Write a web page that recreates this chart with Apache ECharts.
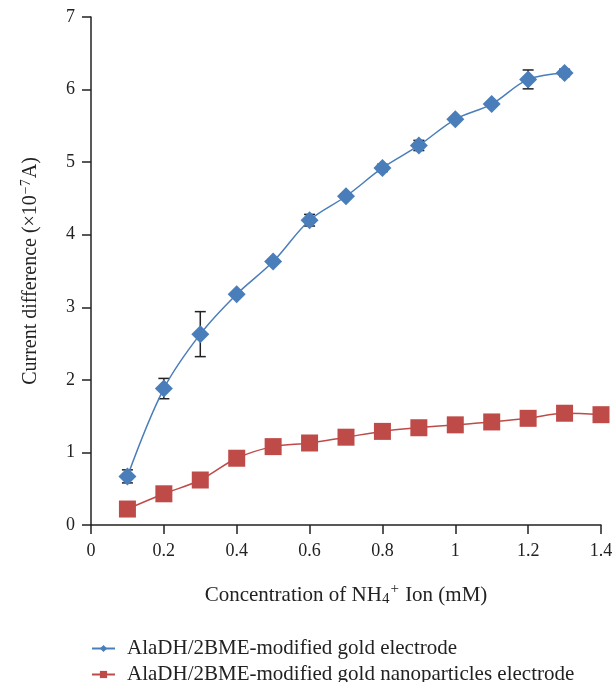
<!DOCTYPE html>
<html>
<head>
<meta charset="utf-8">
<script src="https://cdn.jsdelivr.net/npm/echarts@6/dist/echarts.min.js"></script>
<style>html,body{margin:0;padding:0;background:#fff}#c{width:616px;height:682px}</style>
</head>
<body>
<div id="c"></div>
<script>
const xValues = [0.1, 0.2, 0.3, 0.4, 0.5, 0.6, 0.7, 0.8, 0.9, 1.0, 1.1, 1.2, 1.3];
const goldElectrode = [0.67, 1.88, 2.63, 3.18, 3.63, 4.20, 4.53, 4.92, 5.23, 5.59, 5.80, 6.14, 6.23];
const goldError = [0.09, 0.14, 0.31, 0.03, 0.03, 0.08, 0.03, 0.05, 0.07, 0.03, 0.03, 0.13, 0.05];
const xValuesNano = [0.1, 0.2, 0.3, 0.4, 0.5, 0.6, 0.7, 0.8, 0.9, 1.0, 1.1, 1.2, 1.3, 1.4];
const nanoElectrode = [0.22, 0.43, 0.62, 0.92, 1.08, 1.13, 1.21, 1.29, 1.34, 1.38, 1.42, 1.47, 1.54, 1.52];
const xTicks = [0, 0.2, 0.4, 0.6, 0.8, 1, 1.2, 1.4];
const yTicks = [0, 1, 2, 3, 4, 5, 6, 7];
const seriesNames = ['AlaDH/2BME-modified gold electrode', 'AlaDH/2BME-modified gold nanoparticles electrode'];

const FONT = '"Liberation Serif", "DejaVu Serif", serif';
const chart = echarts.init(document.getElementById('c'), null, {renderer: 'canvas'});

const errData = xValues.map((x, i) => [x, goldElectrode[i] - goldError[i], goldElectrode[i] + goldError[i]]);

const legendBase = {
  orient: 'horizontal', left: 86,
  itemWidth: 23, itemHeight: 9,
  textStyle: {fontFamily: FONT, fontSize: 21, color: '#222', padding: [0, 0, 0, 7]}
};

chart.setOption({
  animation: false,
  backgroundColor: '#fff',
  grid: {left: 91, right: 15, top: 17, bottom: 157},
  xAxis: {
    type: 'value', min: xTicks[0], max: xTicks[xTicks.length - 1], interval: 0.2,
    name: '{a|Concentration of NH}{s|4}{p|+}{a| Ion (mM)}',
    nameLocation: 'middle', nameGap: 57,
    nameTextStyle: {
      rich: {
        a: {fontFamily: FONT, fontSize: 21, color: '#222', lineHeight: 26},
        s: {fontFamily: FONT, fontSize: 15, color: '#222', verticalAlign: 'middle', lineHeight: 16, padding: [9, 0, 0, 0]},
        p: {fontFamily: FONT, fontSize: 15, color: '#222', verticalAlign: 'top', lineHeight: 16, padding: [0, 1, 0, 1]}
      }
    },
    axisLine: {lineStyle: {color: '#222', width: 1.5}},
    axisTick: {show: true, inside: false, length: 9, lineStyle: {color: '#222', width: 1.5}},
    axisLabel: {
      fontFamily: FONT, fontSize: 18, color: '#222', margin: 17,
      formatter: v => String(Math.round(v * 10) / 10)
    },
    splitLine: {show: false}
  },
  yAxis: {
    type: 'value', min: yTicks[0], max: yTicks[yTicks.length - 1], interval: 1,
    name: '{a|Current difference (×10}{p|−7}{a|A)}',
    nameLocation: 'middle', nameGap: 48, nameRotate: 90,
    nameTextStyle: {
      rich: {
        a: {fontFamily: FONT, fontSize: 20, color: '#222', lineHeight: 24},
        p: {fontFamily: FONT, fontSize: 14, color: '#222', verticalAlign: 'top', lineHeight: 15, padding: [0, 1, 0, 1]}
      }
    },
    axisLine: {show: true, lineStyle: {color: '#222', width: 1.5}},
    axisTick: {show: true, inside: false, length: 9, lineStyle: {color: '#222', width: 1.5}},
    axisLabel: {fontFamily: FONT, fontSize: 18, color: '#222', margin: 16},
    splitLine: {show: false}
  },
  legend: [
    Object.assign({}, legendBase, {top: 633, data: [seriesNames[0]]}),
    Object.assign({}, legendBase, {top: 659, data: [seriesNames[1]]})
  ],
  series: [
    {
      type: 'custom', name: 'err', z: 1, silent: true,
      data: errData,
      renderItem: function (params, api) {
        const x = api.value(0);
        const lo = api.coord([x, api.value(1)]);
        const hi = api.coord([x, api.value(2)]);
        const w = 5.5;
        const style = {stroke: '#222', lineWidth: 1.5};
        return {type: 'group', children: [
          {type: 'line', shape: {x1: lo[0], y1: lo[1], x2: hi[0], y2: hi[1]}, style},
          {type: 'line', shape: {x1: lo[0] - w, y1: lo[1], x2: lo[0] + w, y2: lo[1]}, style},
          {type: 'line', shape: {x1: hi[0] - w, y1: hi[1], x2: hi[0] + w, y2: hi[1]}, style}
        ]};
      }
    },
    {
      type: 'line', name: seriesNames[0], z: 3,
      data: xValues.map((x, i) => [x, goldElectrode[i]]),
      smooth: 0.35,
      symbol: 'diamond', symbolSize: 18,
      lineStyle: {color: '#4a7ebb', width: 1.5},
      itemStyle: {color: '#4a7ebb'}
    },
    {
      type: 'line', name: seriesNames[1], z: 3,
      data: xValuesNano.map((x, i) => [x, nanoElectrode[i]]),
      smooth: 0.35,
      symbol: 'rect', symbolSize: 17,
      lineStyle: {color: '#be4b48', width: 1.5},
      itemStyle: {color: '#be4b48'}
    }
  ]
});
</script>
</body>
</html>
